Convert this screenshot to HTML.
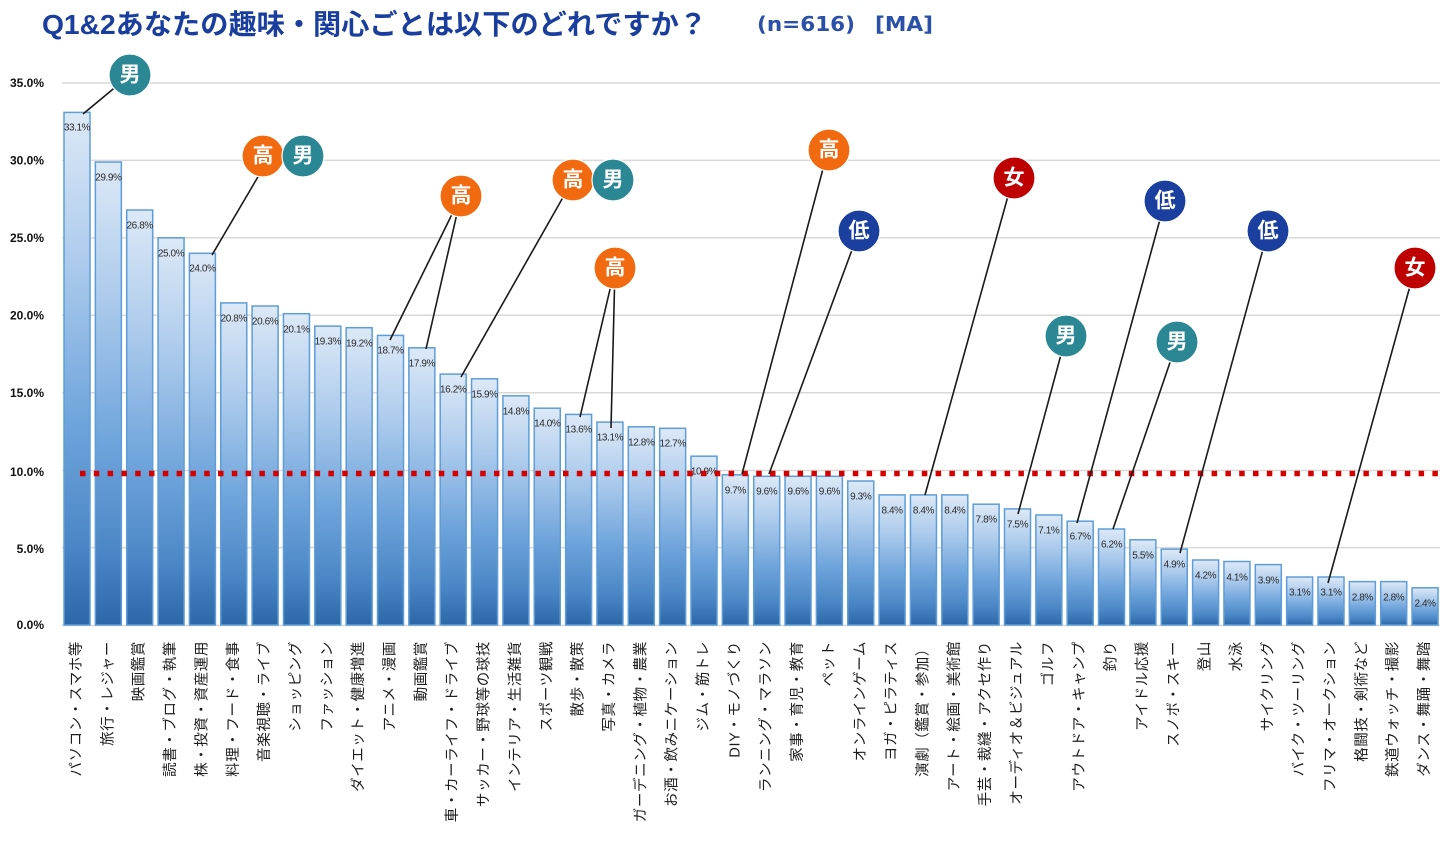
<!DOCTYPE html>
<html><head><meta charset="utf-8"><style>
html,body{margin:0;padding:0;background:#fff;}
svg{display:block;}
.v{font-family:"Liberation Sans",sans-serif;font-size:10px;letter-spacing:-0.4px;fill:#2a2a2a;text-anchor:middle;dominant-baseline:central;}
.x{font-family:"Liberation Sans","Noto Sans CJK JP",sans-serif;font-size:14.5px;letter-spacing:0.6px;fill:#1e1e1e;text-anchor:end;dominant-baseline:central;}
.y{font-family:"Liberation Sans",sans-serif;font-size:12px;font-weight:bold;fill:#111;text-anchor:end;dominant-baseline:central;}
.b{font-family:"Liberation Sans","Noto Sans CJK JP",sans-serif;font-size:21px;font-weight:bold;fill:#fff;text-anchor:middle;dominant-baseline:central;}
</style></head><body>
<svg width="1440" height="849" viewBox="0 0 1440 849" xmlns="http://www.w3.org/2000/svg">
<defs>
<linearGradient id="g" x1="0" y1="0" x2="0" y2="1">
<stop offset="0" stop-color="#dde9f7"/>
<stop offset="0.3" stop-color="#abcaec"/>
<stop offset="0.6" stop-color="#70a5dc"/>
<stop offset="0.85" stop-color="#4a86c5"/>
<stop offset="1" stop-color="#2c68a8"/>
</linearGradient>
</defs>
<rect width="1440" height="849" fill="#fff"/>
<text x="42" y="34" font-family="'Liberation Sans','Noto Sans CJK JP',sans-serif" font-size="28" font-weight="bold" fill="#1a3e9e" textLength="665" lengthAdjust="spacingAndGlyphs">Q1&amp;2あなたの趣味・関心ごとは以下のどれですか？</text>
<text x="757" y="31" font-family="'DejaVu Sans',sans-serif" font-size="20" font-weight="bold" fill="#2b50a8" textLength="98" lengthAdjust="spacingAndGlyphs">(n=616)</text>
<text x="875" y="31" font-family="'DejaVu Sans',sans-serif" font-size="20" font-weight="bold" fill="#2b50a8" textLength="58" lengthAdjust="spacingAndGlyphs">[MA]</text>

<g stroke="#d9d9d9" stroke-width="1.5">
<line x1="62" y1="83" x2="1440" y2="83"/>
<line x1="62" y1="160.4" x2="1440" y2="160.4"/>
<line x1="62" y1="237.9" x2="1440" y2="237.9"/>
<line x1="62" y1="315.3" x2="1440" y2="315.3"/>
<line x1="62" y1="392.7" x2="1440" y2="392.7"/>
<line x1="62" y1="470.5" x2="1440" y2="470.5"/>
<line x1="62" y1="547.6" x2="1440" y2="547.6"/>
<line x1="62" y1="625.5" x2="1440" y2="625.5"/>
</g>
<g>
<text class="y" x="44" y="83">35.0%</text>
<text class="y" x="44" y="160.5">30.0%</text>
<text class="y" x="44" y="238">25.0%</text>
<text class="y" x="44" y="315.5">20.0%</text>
<text class="y" x="44" y="393">15.0%</text>
<text class="y" x="44" y="472">10.0%</text>
<text class="y" x="44" y="549">5.0%</text>
<text class="y" x="44" y="625">0.0%</text>
</g>

<g fill="url(#g)" stroke="#5e9dd8" stroke-width="1.5">
<rect x="64" y="112.4" width="26" height="512.6"/>
<rect x="95.35" y="162" width="26" height="463"/>
<rect x="126.7" y="210" width="26" height="415"/>
<rect x="158.05" y="237.8" width="26" height="387.2"/>
<rect x="189.4" y="253.3" width="26" height="371.7"/>
<rect x="220.75" y="302.9" width="26" height="322.1"/>
<rect x="252.1" y="306" width="26" height="319"/>
<rect x="283.45" y="313.7" width="26" height="311.3"/>
<rect x="314.8" y="326.1" width="26" height="298.9"/>
<rect x="346.15" y="327.7" width="26" height="297.3"/>
<rect x="377.5" y="335.4" width="26" height="289.6"/>
<rect x="408.85" y="347.8" width="26" height="277.2"/>
<rect x="440.2" y="374.1" width="26" height="250.9"/>
<rect x="471.55" y="378.8" width="26" height="246.2"/>
<rect x="502.9" y="395.8" width="26" height="229.2"/>
<rect x="534.25" y="408.2" width="26" height="216.8"/>
<rect x="565.6" y="414.4" width="26" height="210.6"/>
<rect x="596.95" y="422.1" width="26" height="202.9"/>
<rect x="628.3" y="426.8" width="26" height="198.2"/>
<rect x="659.65" y="428.3" width="26" height="196.7"/>
<rect x="691" y="456.2" width="26" height="168.8"/>
<rect x="722.35" y="474.8" width="26" height="150.2"/>
<rect x="753.7" y="476.3" width="26" height="148.7"/>
<rect x="785.05" y="476.3" width="26" height="148.7"/>
<rect x="816.4" y="476.3" width="26" height="148.7"/>
<rect x="847.75" y="481" width="26" height="144"/>
<rect x="879.1" y="494.9" width="26" height="130.1"/>
<rect x="910.45" y="494.9" width="26" height="130.1"/>
<rect x="941.8" y="494.9" width="26" height="130.1"/>
<rect x="973.15" y="504.2" width="26" height="120.8"/>
<rect x="1004.5" y="508.9" width="26" height="116.1"/>
<rect x="1035.85" y="515" width="26" height="110"/>
<rect x="1067.2" y="521.2" width="26" height="103.8"/>
<rect x="1098.55" y="529" width="26" height="96"/>
<rect x="1129.9" y="539.8" width="26" height="85.2"/>
<rect x="1161.25" y="549.1" width="26" height="75.9"/>
<rect x="1192.6" y="560" width="26" height="65"/>
<rect x="1223.95" y="561.5" width="26" height="63.5"/>
<rect x="1255.3" y="564.6" width="26" height="60.4"/>
<rect x="1286.65" y="577" width="26" height="48"/>
<rect x="1318" y="577" width="26" height="48"/>
<rect x="1349.35" y="581.6" width="26" height="43.4"/>
<rect x="1380.7" y="581.6" width="26" height="43.4"/>
<rect x="1412.05" y="587.8" width="26" height="37.2"/>
</g>

<g>
<text class="v" x="77" y="128">33.1%</text>
<text class="v" x="108.35" y="178">29.9%</text>
<text class="v" x="139.7" y="226">26.8%</text>
<text class="v" x="171.05" y="254">25.0%</text>
<text class="v" x="202.4" y="269">24.0%</text>
<text class="v" x="233.75" y="319">20.8%</text>
<text class="v" x="265.1" y="322">20.6%</text>
<text class="v" x="296.45" y="330">20.1%</text>
<text class="v" x="327.8" y="342">19.3%</text>
<text class="v" x="359.15" y="344">19.2%</text>
<text class="v" x="390.5" y="351">18.7%</text>
<text class="v" x="421.85" y="364">17.9%</text>
<text class="v" x="453.2" y="390">16.2%</text>
<text class="v" x="484.55" y="395">15.9%</text>
<text class="v" x="515.9" y="412">14.8%</text>
<text class="v" x="547.25" y="424">14.0%</text>
<text class="v" x="578.6" y="430">13.6%</text>
<text class="v" x="609.95" y="438">13.1%</text>
<text class="v" x="641.3" y="443">12.8%</text>
<text class="v" x="672.65" y="444">12.7%</text>
<text class="v" x="704" y="472">10.9%</text>
<text class="v" x="735.35" y="491">9.7%</text>
<text class="v" x="766.7" y="492">9.6%</text>
<text class="v" x="798.05" y="492">9.6%</text>
<text class="v" x="829.4" y="492">9.6%</text>
<text class="v" x="860.75" y="497">9.3%</text>
<text class="v" x="892.1" y="511">8.4%</text>
<text class="v" x="923.45" y="511">8.4%</text>
<text class="v" x="954.8" y="511">8.4%</text>
<text class="v" x="986.15" y="520">7.8%</text>
<text class="v" x="1017.5" y="525">7.5%</text>
<text class="v" x="1048.85" y="531">7.1%</text>
<text class="v" x="1080.2" y="537">6.7%</text>
<text class="v" x="1111.55" y="545">6.2%</text>
<text class="v" x="1142.9" y="556">5.5%</text>
<text class="v" x="1174.25" y="565">4.9%</text>
<text class="v" x="1205.6" y="576">4.2%</text>
<text class="v" x="1236.95" y="578">4.1%</text>
<text class="v" x="1268.3" y="581">3.9%</text>
<text class="v" x="1299.65" y="593">3.1%</text>
<text class="v" x="1331" y="593">3.1%</text>
<text class="v" x="1362.35" y="598">2.8%</text>
<text class="v" x="1393.7" y="598">2.8%</text>
<text class="v" x="1425.05" y="604">2.4%</text>
</g>

<line x1="80" y1="473.5" x2="1440" y2="473.5" stroke="#d40000" stroke-width="5.5" stroke-dasharray="5.5 8.3"/>

<g class="xl">
<text class="x" transform="translate(77,641) rotate(-90)">パソコン・スマホ等</text>
<text class="x" transform="translate(108.35,641) rotate(-90)">旅行・レジャー</text>
<text class="x" transform="translate(139.7,641) rotate(-90)">映画鑑賞</text>
<text class="x" transform="translate(171.05,641) rotate(-90)">読書・ブログ・執筆</text>
<text class="x" transform="translate(202.4,641) rotate(-90)">株・投資・資産運用</text>
<text class="x" transform="translate(233.75,641) rotate(-90)">料理・フード・食事</text>
<text class="x" transform="translate(265.1,641) rotate(-90)">音楽視聴・ライブ</text>
<text class="x" transform="translate(296.45,641) rotate(-90)">ショッピング</text>
<text class="x" transform="translate(327.8,641) rotate(-90)">ファッション</text>
<text class="x" transform="translate(359.15,641) rotate(-90)">ダイエット・健康増進</text>
<text class="x" transform="translate(390.5,641) rotate(-90)">アニメ・漫画</text>
<text class="x" transform="translate(421.85,641) rotate(-90)">動画鑑賞</text>
<text class="x" transform="translate(453.2,641) rotate(-90)">車・カーライフ・ドライブ</text>
<text class="x" transform="translate(484.55,641) rotate(-90)">サッカー・野球等の球技</text>
<text class="x" transform="translate(515.9,641) rotate(-90)">インテリア・生活雑貨</text>
<text class="x" transform="translate(547.25,641) rotate(-90)">スポーツ観戦</text>
<text class="x" transform="translate(578.6,641) rotate(-90)">散歩・散策</text>
<text class="x" transform="translate(609.95,641) rotate(-90)">写真・カメラ</text>
<text class="x" transform="translate(641.3,641) rotate(-90)">ガーデニング・植物・農業</text>
<text class="x" transform="translate(672.65,641) rotate(-90)">お酒・飲みニケーション</text>
<text class="x" transform="translate(704,641) rotate(-90)">ジム・筋トレ</text>
<text class="x" transform="translate(735.35,641) rotate(-90)">DIY・モノづくり</text>
<text class="x" transform="translate(766.7,641) rotate(-90)">ランニング・マラソン</text>
<text class="x" transform="translate(798.05,641) rotate(-90)">家事・育児・教育</text>
<text class="x" transform="translate(829.4,641) rotate(-90)">ペット</text>
<text class="x" transform="translate(860.75,641) rotate(-90)">オンラインゲーム</text>
<text class="x" transform="translate(892.1,641) rotate(-90)">ヨガ・ピラティス</text>
<text class="x" transform="translate(923.45,641) rotate(-90)">演劇（鑑賞・参加）</text>
<text class="x" transform="translate(954.8,641) rotate(-90)">アート・絵画・美術館</text>
<text class="x" transform="translate(986.15,641) rotate(-90)">手芸・裁縫・アクセ作り</text>
<text class="x" transform="translate(1017.5,641) rotate(-90)">オーディオ＆ビジュアル</text>
<text class="x" transform="translate(1048.85,641) rotate(-90)">ゴルフ</text>
<text class="x" transform="translate(1080.2,641) rotate(-90)">アウトドア・キャンプ</text>
<text class="x" transform="translate(1111.55,641) rotate(-90)">釣り</text>
<text class="x" transform="translate(1142.9,641) rotate(-90)">アイドル応援</text>
<text class="x" transform="translate(1174.25,641) rotate(-90)">スノボ・スキー</text>
<text class="x" transform="translate(1205.6,641) rotate(-90)">登山</text>
<text class="x" transform="translate(1236.95,641) rotate(-90)">水泳</text>
<text class="x" transform="translate(1268.3,641) rotate(-90)">サイクリング</text>
<text class="x" transform="translate(1299.65,641) rotate(-90)">バイク・ツーリング</text>
<text class="x" transform="translate(1331,641) rotate(-90)">フリマ・オークション</text>
<text class="x" transform="translate(1362.35,641) rotate(-90)">格闘技・剣術など</text>
<text class="x" transform="translate(1393.7,641) rotate(-90)">鉄道ウォッチ・撮影</text>
<text class="x" transform="translate(1425.05,641) rotate(-90)">ダンス・舞踊・舞踏</text>
</g>

<g stroke="#1a1a1a" stroke-width="1.6" fill="none">
<line x1="83" y1="114" x2="130" y2="75"/>
<line x1="212" y1="255" x2="262" y2="170"/>
<line x1="390" y1="340" x2="461" y2="196"/>
<line x1="426" y1="349" x2="461" y2="196"/>
<line x1="461" y1="377" x2="570" y2="185"/>
<line x1="580" y1="417" x2="615" y2="268"/>
<line x1="611" y1="428" x2="615" y2="268"/>
<line x1="742" y1="474" x2="828" y2="150"/>
<line x1="769" y1="474" x2="859" y2="231"/>
<line x1="925" y1="495" x2="1013" y2="178"/>
<line x1="1018" y1="514" x2="1066" y2="336"/>
<line x1="1077" y1="523" x2="1165" y2="201"/>
<line x1="1113" y1="529" x2="1177" y2="342"/>
<line x1="1180" y1="553" x2="1268" y2="231"/>
<line x1="1328" y1="583" x2="1415" y2="268"/>
</g>

<g stroke="#fff" stroke-width="1.2">
<circle cx="130" cy="75" r="21" fill="#2b8794"/>
<circle cx="263" cy="156" r="21" fill="#f26a10"/>
<circle cx="303" cy="156" r="21" fill="#2b8794"/>
<circle cx="461" cy="196" r="21" fill="#f26a10"/>
<circle cx="573" cy="180" r="21" fill="#f26a10"/>
<circle cx="613" cy="180" r="21" fill="#2b8794"/>
<circle cx="615" cy="268" r="21" fill="#f26a10"/>
<circle cx="829" cy="150" r="21" fill="#f26a10"/>
<circle cx="859" cy="231" r="21" fill="#1b3f9e"/>
<circle cx="1014" cy="178" r="21" fill="#bf0000"/>
<circle cx="1066" cy="336" r="21" fill="#2b8794"/>
<circle cx="1165" cy="201" r="21" fill="#1b3f9e"/>
<circle cx="1177" cy="342" r="21" fill="#2b8794"/>
<circle cx="1268" cy="231" r="21" fill="#1b3f9e"/>
<circle cx="1415" cy="268" r="21" fill="#bf0000"/>
</g>
<g>
<text class="b" x="130" y="75">男</text>
<text class="b" x="263" y="156">高</text>
<text class="b" x="303" y="156">男</text>
<text class="b" x="461" y="196">高</text>
<text class="b" x="573" y="180">高</text>
<text class="b" x="613" y="180">男</text>
<text class="b" x="615" y="268">高</text>
<text class="b" x="829" y="150">高</text>
<text class="b" x="859" y="231">低</text>
<text class="b" x="1014" y="178">女</text>
<text class="b" x="1066" y="336">男</text>
<text class="b" x="1165" y="201">低</text>
<text class="b" x="1177" y="342">男</text>
<text class="b" x="1268" y="231">低</text>
<text class="b" x="1415" y="268">女</text>
</g>
</svg>
</body></html>
